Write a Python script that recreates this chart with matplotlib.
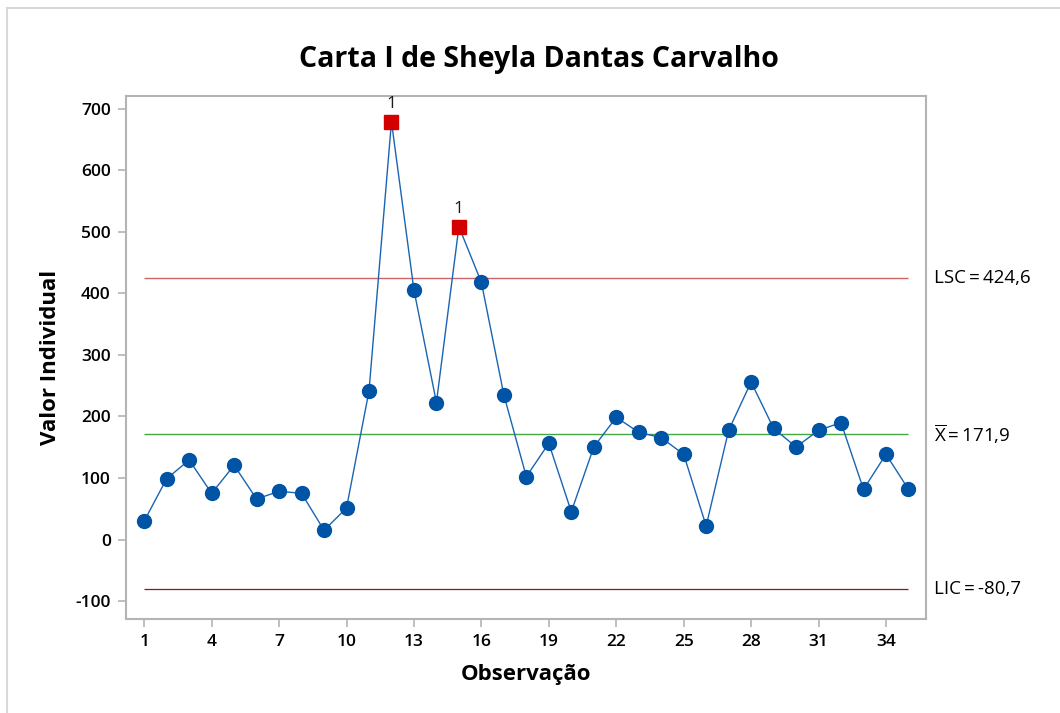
import numpy as np
import matplotlib.pyplot as plt
from matplotlib.lines import Line2D

plt.rcParams['font.family'] = ['Open Sans', 'DejaVu Sans']
plt.rcParams['mathtext.fontset'] = 'custom'
plt.rcParams['mathtext.rm'] = 'Open Sans'
plt.rcParams['axes.unicode_minus'] = False

# individual observations
obs = np.arange(1, 36)
valores = [30.2, 99.0, 129.3, 75.2, 120.7, 66.0, 78.5, 75.2, 15.1, 51.3,
           241.4, 679.0, 405.5, 222.7, 508.4, 418.0, 235.0,
           102.2, 156.5, 45.3, 150.4, 198.7, 174.3,
           165.6, 138.6, 22.1, 177.6, 256.0, 180.8, 150.4, 177.6, 190.0,
           81.7, 138.6, 81.7]
media = 171.9
lsc = 424.6
lic = -80.7
xticks = np.arange(1, 36, 3)
yticks = np.arange(-100, 701, 100)

azul = '#0054a6'
vermelho = '#d40000'
cinza = '#b4b4b4'

valores = np.array(valores)
fora = valores > lsc

fig = plt.figure(figsize=(10.6, 7.13), dpi=100)
ax = fig.add_axes([126 / 1060, 1 - 619 / 713, 800 / 1060, (619 - 95.7) / 713])

# control limits and centre line
ax.hlines(lsc, obs[0], obs[-1], color='#d06464', lw=1.0)
ax.hlines(media, obs[0], obs[-1], color='#45a845', lw=1.0)
ax.hlines(lic, obs[0], obs[-1], color='#8b1a1a', lw=0.9)

ax.plot(obs, valores, color='#1a64b4', lw=1.0, zorder=3)
ax.plot(obs[~fora], valores[~fora], 'o', color=azul, ms=10, mec=azul, zorder=4)
ax.plot(obs[fora], valores[fora], 's', color=vermelho, ms=9.5, mec=vermelho, zorder=4)
for x, y in zip(obs[fora], valores[fora]):
    ax.text(x, y + 15, '1', ha='center', va='bottom', fontsize=12.5, color='#1a1a1a')

ax.set_xlim(0.19, 35.78)
ax.set_ylim(-129, 721.2)
ax.set_xticks(xticks)
ax.set_yticks(yticks)
ax.tick_params(axis='both', colors=cinza, length=6, width=1.2, pad=5,
               labelcolor='black', labelsize=12.5)
for lab in ax.get_xticklabels() + ax.get_yticklabels():
    lab.set_fontweight('semibold')
for sp in ax.spines.values():
    sp.set_color(cinza)
    sp.set_linewidth(1.5)

# limit labels on the right
kw = dict(transform=ax.get_yaxis_transform(), va='center', ha='left', fontsize=13.5)
ax.text(1.01, lsc, 'LSC\u2009=\u2009424,6', **kw)
ax.text(1.01, media, r'$\overline{\mathrm{X}}$' + '\u2009=\u2009171,9', **kw)
ax.text(1.01, lic, 'LIC\u2009=\u2009-80,7', **kw)

ax.set_xlabel('Observação', fontsize=16, fontweight='bold', labelpad=10)
ax.set_ylabel('Valor Individual', fontsize=16, fontweight='bold', labelpad=10)
fig.text(539 / 1060, 1 - 60 / 713, 'Carta I de Sheyla Dantas Carvalho',
         ha='center', va='center', fontsize=20.5, fontweight='bold')

# outer frame
fig.add_artist(Line2D([7 / 1060, 7 / 1060], [0, 1 - 8 / 713], transform=fig.transFigure,
                      color='#d8d8d8', lw=1.5))
fig.add_artist(Line2D([7 / 1060, 1], [1 - 8 / 713, 1 - 8 / 713], transform=fig.transFigure,
                      color='#d8d8d8', lw=1.5))

fig.savefig('out.png', dpi=100)
